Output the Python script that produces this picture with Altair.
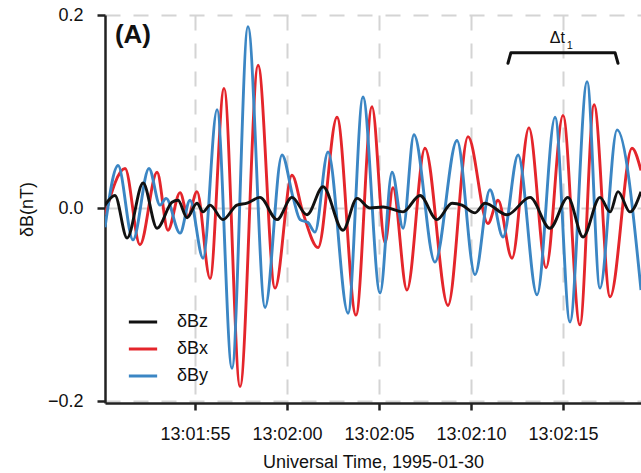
import altair as alt
import pandas as pd

# time in seconds after 13:01:50 UT (1995-01-30), values in nT
bx_t = [0.11, 1.20, 2.01, 2.94, 3.53, 4.19, 4.62, 5.11, 5.82, 6.58, 7.45, 8.43, 9.35, 10.27,
        10.87, 11.69, 12.72, 13.75, 14.62, 15.33, 15.76, 16.52, 17.50, 18.75, 19.84, 20.92,
        21.47, 22.23, 23.15, 24.08, 25.00, 25.92, 26.69, 27.56, 28.75, 29.24]
bx_v = [-0.007, 0.041, -0.038, 0.037, -0.023, 0.016, -0.009, 0.017, -0.073, 0.124, -0.185,
        0.148, -0.083, 0.034, -0.005, -0.041, 0.094, -0.111, 0.105, -0.036, 0.021, -0.085,
        0.062, -0.101, 0.074, -0.016, 0.008, -0.052, 0.083, -0.062, 0.096, -0.121, 0.107,
        -0.092, 0.062, 0.039]

by_t = [0.11, 0.82, 1.63, 2.50, 3.10, 3.43, 4.19, 4.73, 5.44, 6.20, 7.01, 7.88, 8.81, 9.73,
        10.33, 10.71, 11.14, 11.52, 12.23, 13.32, 14.13, 15.06, 15.71, 16.31, 16.90, 18.04,
        19.24, 20.22, 21.03, 21.74, 22.56, 23.59, 24.57, 25.38, 26.31, 27.01, 27.94, 29.24]
by_v = [-0.020, 0.044, -0.033, 0.041, 0.003, 0.010, -0.026, 0.008, -0.052, 0.102, -0.166,
        0.188, -0.103, 0.055, 0.011, -0.012, -0.015, -0.025, 0.058, -0.109, 0.115, -0.088,
        0.037, -0.021, 0.076, -0.056, 0.070, -0.069, 0.019, -0.030, 0.055, -0.090, 0.094,
        -0.118, 0.131, -0.083, 0.081, -0.085]

bz_t = [0.11, 0.65, 1.31, 2.18, 2.94, 3.75, 4.08, 4.57, 5.11, 5.44, 5.82, 6.52, 7.28, 7.83,
        8.53, 9.46, 10.27, 11.09, 11.96, 13.04, 13.81, 14.51, 15.22, 16.31, 17.23, 18.15,
        18.97, 19.51, 20.22, 20.76, 21.96, 23.21, 24.29, 25.27, 26.09, 27.01, 27.56, 27.99,
        28.64, 29.24]
bz_v = [0.003, 0.013, -0.031, 0.026, -0.021, 0.006, 0.008, -0.010, 0.005, -0.004, 0.003,
        -0.012, 0.003, 0.005, 0.011, -0.012, 0.011, -0.007, 0.022, -0.023, 0.010, 0.000,
        0.001, -0.004, 0.013, -0.012, 0.005, 0.003, -0.005, 0.005, -0.007, 0.011, -0.021,
        0.011, -0.030, 0.011, -0.004, 0.017, -0.004, 0.017]

series_names = ["δBz", "δBx", "δBy"]
series_colors = ["#111111", "#e4252b", "#3b86c4"]

x_ticks = [5, 10, 15, 20, 25]
y_ticks = [-0.2, 0.0, 0.2]

# bracket marking Δt1
bracket_t = [22.01, 22.17, 27.83, 27.99]
bracket_v = [0.150, 0.161, 0.161, 0.150]

rows = []
for name, ts, vs, order in [("δBx", bx_t, bx_v, 0), ("δBy", by_t, by_v, 1), ("δBz", bz_t, bz_v, 2)]:
    for t, v in zip(ts, vs):
        rows.append({"t": t, "v": v, "series": name, "layer": order})
df = pd.DataFrame(rows)

bracket_df = pd.DataFrame({"t": bracket_t, "v": bracket_v, "i": list(range(len(bracket_t)))})

x_scale = alt.Scale(domain=[0.11, 29.24], nice=False, zero=False)
y_scale = alt.Scale(domain=[-0.202, 0.2], nice=False, zero=False)

label_expr = ("'13:0' + (1 + floor((50 + datum.value) / 60)) + ':' + "
              "format((50 + datum.value) % 60, '02d')")

x_enc = alt.X("t:Q", scale=x_scale,
              axis=alt.Axis(values=x_ticks, labelExpr=label_expr,
                            title="Universal Time, 1995-01-30",
                            grid=True, gridDash=[15, 13], gridColor="#d4d4d4", gridWidth=2,
                            domainColor="#222222", domainWidth=2.5,
                            tickColor="#222222", tickWidth=2.5, tickSize=7,
                            labelFontSize=18, titleFontSize=18, labelPadding=15,
                            titlePadding=10, labelColor="#111111", titleColor="#111111",
                            titleFontWeight="normal", labelFont="Liberation Sans",
                            titleFont="Liberation Sans"))
y_enc = alt.Y("v:Q", scale=y_scale,
              axis=alt.Axis(values=y_ticks, format=".1f", title="δB(nT)",
                            grid=True, gridDash=[15, 13], gridColor="#d4d4d4", gridWidth=2,
                            domainColor="#222222", domainWidth=2.5,
                            tickColor="#222222", tickWidth=2.5, tickSize=8,
                            labelFontSize=18, titleFontSize=18, labelPadding=14,
                            titlePadding=11, labelColor="#111111", titleColor="#111111",
                            titleFontWeight="normal", labelFont="Liberation Sans",
                            titleFont="Liberation Sans"))

lines = alt.Chart(df).mark_line(strokeWidth=2.9, interpolate="monotone", clip=True).encode(
    x=x_enc,
    y=y_enc,
    color=alt.Color("series:N",
                    scale=alt.Scale(domain=series_names, range=series_colors),
                    legend=alt.Legend(title=None, orient="none", legendX=22, legendY=291,
                                      symbolType="stroke", symbolStrokeWidth=3,
                                      symbolSize=800, labelFontSize=18,
                                      labelFont="Liberation Sans", labelColor="#111111",
                                      labelOffset=18, rowPadding=2, padding=0)),
    order=alt.Order("layer:Q"),
    detail="layer:N",
)

bracket = alt.Chart(bracket_df).mark_line(color="#111111", strokeWidth=3, strokeJoin="round",
                                          strokeCap="round").encode(
    x=alt.X("t:Q", scale=x_scale), y=alt.Y("v:Q", scale=y_scale), order="i:Q")

ann_main = pd.DataFrame({"t": [24.28], "v": [0.171], "text": ["Δt"]})
ann_sub = pd.DataFrame({"t": [25.2], "v": [0.165], "text": ["1"]})
ann_panel = pd.DataFrame({"t": [0.65], "v": [0.171], "text": ["(A)"]})

t_main = alt.Chart(ann_main).mark_text(align="left", baseline="alphabetic", fontSize=16,
                                       font="Liberation Sans", color="#111111").encode(
    x=alt.X("t:Q", scale=x_scale), y=alt.Y("v:Q", scale=y_scale), text="text:N")
t_sub = alt.Chart(ann_sub).mark_text(align="left", baseline="alphabetic", fontSize=11,
                                     font="Liberation Sans", color="#111111").encode(
    x=alt.X("t:Q", scale=x_scale), y=alt.Y("v:Q", scale=y_scale), text="text:N")
t_panel = alt.Chart(ann_panel).mark_text(align="left", baseline="alphabetic", fontSize=26,
                                         fontWeight="bold", font="Liberation Sans",
                                         color="#111111").encode(
    x=alt.X("t:Q", scale=x_scale), y=alt.Y("v:Q", scale=y_scale), text="text:N")

chart = alt.layer(lines, bracket, t_main, t_sub, t_panel).properties(
    width=536, height=388,
    autosize=alt.AutoSizeParams(type="none"),
    padding={"left": 105, "top": 15, "right": 0, "bottom": 70},
    background="white",
).configure_view(stroke=None)

chart.save("out.html", embed_options={"renderer": "svg", "actions": False})
